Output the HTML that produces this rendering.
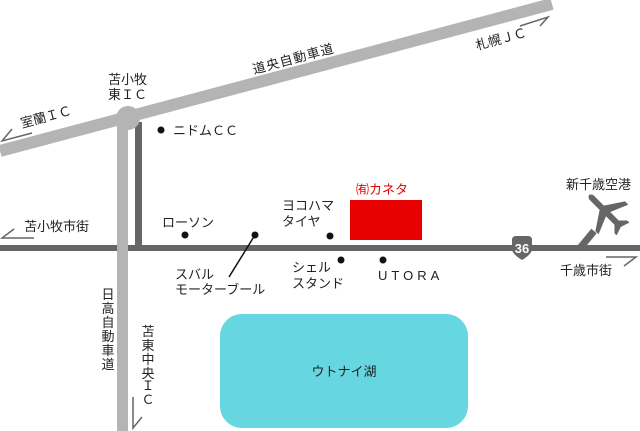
<!DOCTYPE html>
<html><head><meta charset="utf-8"><style>
html,body{margin:0;padding:0;background:#fff;}
svg{display:block;}
text{font-family:"Liberation Sans","Noto Sans CJK JP",sans-serif;font-size:13px;fill:#222;}
</style></head><body>
<svg width="640" height="431" viewBox="0 0 640 431" xmlns="http://www.w3.org/2000/svg">
<rect x="220" y="314" width="248" height="114" rx="22" fill="#66d6e0"/>
<text x="344" y="376" text-anchor="middle" font-size="12">ウトナイ湖</text>
<rect x="0" y="245" width="640" height="6" fill="#666"/>
<rect x="135" y="122" width="7" height="126" fill="#666"/>
<line x1="0" y1="151" x2="552" y2="4" stroke="#b4b4b4" stroke-width="12"/>
<rect x="117" y="118" width="11" height="313" fill="#b4b4b4"/>
<circle cx="128" cy="118" r="12" fill="#b4b4b4"/>
<rect x="350" y="200" width="72" height="40" fill="#e60000"/>
<text x="356" y="194" style="fill:#e60000" font-size="12">㈲カネタ</text>
<path d="M512 240 Q512 236 516 236 L528 236 Q532 236 532 240 L532 249 Q532 254 522 260 Q512 254 512 249 Z" fill="#666"/>
<text x="522" y="253" text-anchor="middle" font-size="12" style="fill:#fff" font-weight="bold">36</text>
<line x1="580" y1="248" x2="594" y2="231" stroke="#666" stroke-width="7"/>
<g transform="translate(606,212) rotate(-45) scale(1.5)" fill="#666">
<path d="M-2 -14 Q0 -18 2 -14 L2 -4 L14 4 L14 7 L2 2 L2 10 L6 14 L6 16 L0 14 L-6 16 L-6 14 L-2 10 L-2 2 L-14 7 L-14 4 L-2 -4 Z"/>
</g>
<g stroke="#666" stroke-width="1.5" fill="none">
<polyline points="520,26 548,17 540,26"/>
<path d="M32 133 L2 141 L12 129"/>
<path d="M34 238 L2 238 L14 229"/>
<path d="M606 257 L636 257 L624 266"/>
<path d="M133 397 L133 428 L142 417"/>
</g>
<g fill="#111">
<circle cx="161" cy="130" r="3.5"/>
<circle cx="185" cy="235" r="3.5"/>
<circle cx="255" cy="235" r="3.5"/>
<circle cx="330" cy="236" r="3.5"/>
<circle cx="341" cy="260" r="3.5"/>
<circle cx="383" cy="260" r="3.5"/>
</g>
<line x1="255" y1="235" x2="229" y2="277" stroke="#111" stroke-width="1.5"/>
<text x="108" y="84">苫小牧</text>
<text x="108" y="99">東ＩＣ</text>
<text x="173" y="135">ニドムＣＣ</text>
<text x="162" y="227">ローソン</text>
<text x="175" y="279">スバル</text>
<text x="175" y="294">モーターブール</text>
<text x="282" y="210">ヨコハマ</text>
<text x="282" y="226">タイヤ</text>
<text x="292" y="272">シェル</text>
<text x="292" y="288">スタンド</text>
<text x="378" y="280" letter-spacing="4">UTORA</text>
<text x="566" y="189">新千歳空港</text>
<text x="560" y="275">千歳市街</text>
<text x="24" y="231">苫小牧市街</text>
<text transform="translate(254,74) rotate(-15)" letter-spacing="1">道央自動車道</text>
<text transform="translate(477,50) rotate(-15)">札幌ＪＣ</text>
<text transform="translate(22,128) rotate(-15)">室蘭ＩＣ</text>
<g text-anchor="middle">
<text x="108" y="299">日</text><text x="108" y="313">高</text><text x="108" y="327">自</text><text x="108" y="341">動</text><text x="108" y="355">車</text><text x="108" y="369">道</text>
<text x="148" y="336">苫</text><text x="148" y="350">東</text><text x="148" y="364">中</text><text x="148" y="378">央</text><text x="148" y="390">Ｉ</text><text x="148" y="404">Ｃ</text>
</g>
</svg>
</body></html>
